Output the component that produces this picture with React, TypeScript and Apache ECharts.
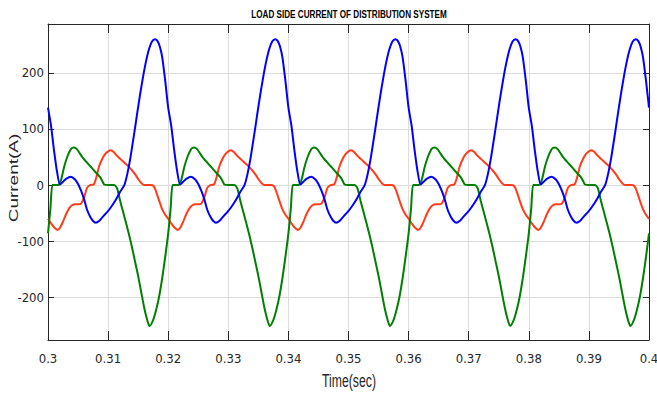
import React, { useEffect, useRef } from "react";
import * as echarts from "echarts";

// one 20 ms period (50 Hz) of each phase current;
// offsets in ms from the start of the period, values in A
const periodStarts = [0.3, 0.32, 0.34, 0.36, 0.38];
const endTime = 0.4;

const blueTauMs = [0, 0.5, 1.0, 1.5, 2.0, 2.5, 3.0, 3.8, 4.5, 5.0, 5.5, 6.0, 6.5, 7.0, 7.5, 7.95, 8.5, 9.0, 9.5, 10.0, 10.5, 11.0, 11.5, 12.0, 12.7, 13.2, 13.7, 14.3, 14.8, 15.3, 15.8, 16.3, 16.8, 17.3, 17.8, 18.2, 18.6, 19.0, 19.5];
const blueValues = [138, 106, 62, 24, 1, 6, 11, 15, 10, 2, -10, -25, -44, -56, -64, -67, -64, -58, -52, -46, -39, -31, -22, -12, 0, 20, 48, 89, 125, 160, 192, 220, 242, 256, 260, 257, 247, 228, 186];

const greenTauMs = [0, 0.4, 0.75, 1.3, 1.85, 2.2, 2.7, 3.2, 3.7, 4.0, 4.36, 4.8, 5.2, 5.7, 6.0, 6.5, 7.0, 7.5, 8.0, 8.6, 9.0, 9.35, 10.0, 11.0, 11.5, 12.0, 12.5, 13.0, 13.5, 14.0, 14.5, 15.0, 15.5, 16.0, 16.5, 16.9, 17.5, 18.0, 18.5, 19.0, 19.5];
const greenValues = [-86, -42, 0, 0, 1, 10, 33, 50, 62, 66, 67, 64, 58, 50, 46, 40, 34, 28, 22, 15, 8, 1, 0, 0, -6, -28, -48, -68, -89, -112, -137, -162, -190, -218, -240, -251, -240, -222, -198, -166, -128];

const redTauMs = [0, 0.5, 1.0, 1.6, 2.0, 2.5, 3.0, 3.5, 4.0, 4.5, 5.0, 5.5, 6.0, 6.5, 7.0, 7.6, 8.0, 8.5, 9.0, 9.5, 10.0, 10.45, 11.0, 11.5, 12.0, 12.5, 13.0, 13.5, 14.0, 14.5, 15.0, 15.5, 16.0, 17.0, 17.6, 18.0, 18.5, 19.0, 19.5];
const redValues = [-60, -68, -75, -80, -76, -65, -52, -42, -36, -34, -34, -33, -22, -5, 0, 1, 12, 33, 46, 55, 60, 62, 58, 52, 47, 42, 37, 32, 26, 19, 11, 4, 0, 0, -2, -12, -28, -43, -53];

const xMin = 0.3;
const xMax = 0.4;
const yMin = -276;
const yMax = 287;

function buildSeries(tau: number[], vals: number[]): [number, number][] {
  const out: [number, number][] = [];
  for (const s of periodStarts) {
    for (let i = 0; i < tau.length; i++) {
      out.push([Math.round((s + tau[i] / 1000) * 1e7) / 1e7, vals[i]]);
    }
  }
  out.push([endTime, vals[0]]);
  return out;
}

const FRAME = "#262626";
const GRID = "#dcdcdc";
const NARROW = "'Liberation Sans Narrow','DejaVu Sans Condensed','Arial Narrow',sans-serif";
const SANS = "'Liberation Sans', Arial, sans-serif";

export default function App() {
  const ref = useRef<HTMLDivElement>(null);
  useEffect(() => {
    if (!ref.current) return;
    const chart = echarts.init(ref.current, undefined, { renderer: "svg" });
    const baseX = {
      type: "value" as const,
      min: xMin,
      max: xMax,
      splitNumber: 10,
      axisLine: { show: true, onZero: false, lineStyle: { color: FRAME, width: 1 } },
      axisTick: { show: true, inside: true, length: 9, lineStyle: { color: FRAME } },
    };
    const baseY = {
      type: "value" as const,
      min: yMin,
      max: yMax,
      splitNumber: 5,
      axisLine: { show: true, onZero: false, lineStyle: { color: FRAME, width: 1 } },
      axisTick: { show: true, inside: true, length: 6, lineStyle: { color: FRAME } },
    };
    const lineSeries = (name: string, color: string, data: [number, number][]) => ({
      name,
      type: "line" as const,
      data,
      showSymbol: false,
      smooth: 0.25,
      lineStyle: { color, width: 2 },
      itemStyle: { color },
      z: 3,
    });
    chart.setOption({
      animation: false,
      backgroundColor: "#ffffff",
      grid: {
        left: 48,
        right: 8,
        top: 24,
        bottom: 54,
        containLabel: false,
        outerBoundsMode: "none",
      },
      xAxis: [
        {
          ...baseX,
          position: "bottom",
          splitLine: { show: true, lineStyle: { color: GRID, width: 1 } },
          axisLabel: {
            show: true,
            color: FRAME,
            fontSize: 13,
            fontFamily: NARROW,
            margin: 12,
          },
        },
        {
          ...baseX,
          position: "top",
          splitLine: { show: false },
          axisLabel: { show: false },
        },
      ],
      yAxis: [
        {
          ...baseY,
          position: "left",
          splitLine: { show: true, lineStyle: { color: GRID, width: 1 } },
          axisLabel: {
            show: true,
            color: FRAME,
            fontSize: 13,
            fontFamily: NARROW,
            margin: 4,
            showMinLabel: false,
            showMaxLabel: false,
            formatter: (v: number) => (Math.abs(v % 100) < 1e-6 ? String(v) : ""),
          },
        },
        {
          ...baseY,
          position: "right",
          splitLine: { show: false },
          axisLabel: { show: false },
        },
      ],
      series: [
        lineSeries("Phase C", "#ff3d1a", buildSeries(redTauMs, redValues)),
        lineSeries("Phase B", "#008000", buildSeries(greenTauMs, greenValues)),
        lineSeries("Phase A", "#0000ff", buildSeries(blueTauMs, blueValues)),
      ],
      graphic: [
        {
          type: "text",
          x: 349,
          y: 14.5,
          scaleX: 0.74,
          style: {
            text: "LOAD SIDE CURRENT OF DISTRIBUTION SYSTEM",
            font: `bold 11px ${SANS}`,
            fill: "#000000",
            textAlign: "center",
            textVerticalAlign: "middle",
          },
        },
        {
          type: "text",
          x: 349,
          y: 381,
          scaleX: 0.68,
          style: {
            text: "Time(sec)",
            font: `18px ${SANS}`,
            fill: FRAME,
            textAlign: "center",
            textVerticalAlign: "middle",
          },
        },
        {
          type: "group",
          x: 13.5,
          y: 178,
          scaleX: 0.72,
          children: [
            {
              type: "text",
              rotation: Math.PI / 2,
              style: {
                text: "Current(A)",
                font: `19px ${SANS}`,
                fill: FRAME,
                textAlign: "center",
                textVerticalAlign: "middle",
              },
            },
          ],
        },
      ],
    });
    return () => chart.dispose();
  }, []);
  return (
    <div
      ref={ref}
      style={{ position: "fixed", left: 0, top: 0, width: 657, height: 394 }}
    />
  );
}
